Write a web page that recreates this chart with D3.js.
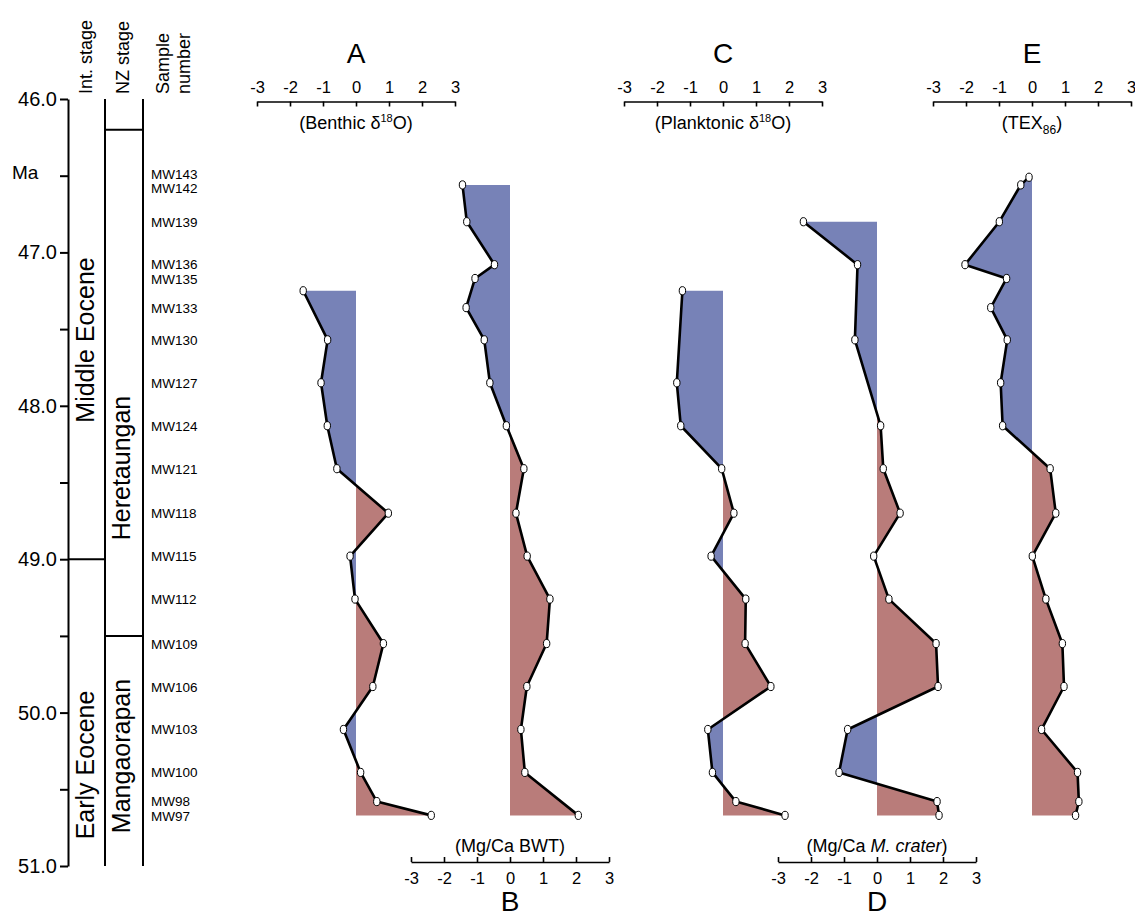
<!DOCTYPE html>
<html>
<head>
<meta charset="utf-8">
<script src="https://cdn.jsdelivr.net/npm/d3@7"></script>
<style>
  body { margin: 0; background: #fff; }
  svg text { font-family: "Liberation Sans", Arial, Helvetica, sans-serif; fill: #000; }
</style>
</head>
<body>
<div id="chart"></div>
<script>
// ---- data (ages in Ma, values as anomalies) ----
const sampleIds = ["MW143","MW142","MW139","MW136","MW135","MW133","MW130","MW127","MW124","MW121",
                   "MW118","MW115","MW112","MW109","MW106","MW103","MW100","MW98","MW97"];
const sampleAges = [46.51,46.56,46.80,47.08,47.17,47.36,47.57,47.85,48.13,48.41,
                    48.70,48.98,49.26,49.55,49.83,50.11,50.39,50.58,50.67];

const ageTicks = [46, 47, 48, 49, 50, 51];
const ageMinor = [46.5, 47.5, 48.5, 49.5, 50.5];
const valueTicks = [-3, -2, -1, 0, 1, 2, 3];

const agesA = [47.25,47.57,47.85,48.13,48.41,48.70,48.98,49.26,49.55,49.83,50.11,50.39,50.58,50.67];
const benthicO = [-1.60,-0.86,-1.06,-0.87,-0.58,0.98,-0.18,-0.03,0.83,0.51,-0.38,0.14,0.63,2.28];

const agesB = [46.56,46.80,47.08,47.17,47.36,47.57,47.85,48.13,48.41,48.70,48.98,49.26,49.55,49.83,50.11,50.39,50.67];
const mgcaBWT = [-1.44,-1.31,-0.47,-1.06,-1.33,-0.78,-0.61,-0.11,0.42,0.18,0.52,1.21,1.11,0.51,0.33,0.45,2.07];

const agesC = [47.25,47.85,48.13,48.41,48.70,48.98,49.26,49.55,49.83,50.11,50.39,50.58,50.67];
const planktonicO = [-1.23,-1.40,-1.28,-0.04,0.33,-0.36,0.69,0.67,1.45,-0.46,-0.32,0.39,1.88];

const agesD = [46.80,47.08,47.57,48.13,48.41,48.70,48.98,49.26,49.55,49.83,50.11,50.39,50.58,50.67];
const mgcaCrater = [-2.23,-0.59,-0.67,0.11,0.19,0.70,-0.10,0.36,1.79,1.85,-0.89,-1.15,1.82,1.88];

const agesE = sampleAges;
const tex86 = [-0.09,-0.34,-0.99,-2.03,-0.77,-1.25,-0.75,-0.95,-0.89,0.55,0.72,0.01,0.42,0.92,0.97,0.29,1.38,1.42,1.32];

// stages
const intStageBounds = [49.0];
const nzStageBounds = [46.2, 49.5];

// ---- layout ----
const W = 1135, H = 916;
const blue = "#7782b7", red = "#b97c7a";

const svg = d3.select("#chart").append("svg")
  .attr("width", W).attr("height", H);

const y = d3.scaleLinear().domain([46, 51]).range([99, 866]);

const colAge = 68, colNzL = 105, colNzR = 143;

// age axis
const ageAxis = svg.append("g").attr("transform", `translate(${colAge},0)`)
  .call(d3.axisLeft(y).tickValues(ageTicks.concat(ageMinor)).tickSize(8).tickSizeOuter(0)
    .tickFormat(d => ageTicks.includes(d) ? d3.format(".1f")(d) : ""));
ageAxis.selectAll("path, line").attr("stroke", "#000").attr("stroke-width", 2);
ageAxis.selectAll("text").attr("font-size", 20).attr("x", -11);

svg.append("text").attr("x", 12).attr("y", y(46.5) + 3).attr("font-size", 19).text("Ma");

// NZ stage column
[colNzL, colNzR].forEach(x => {
  svg.append("line").attr("x1", x).attr("x2", x).attr("y1", y(46)).attr("y2", y(51))
    .attr("stroke", "#000").attr("stroke-width", 2);
});
nzStageBounds.forEach(a => {
  svg.append("line").attr("x1", colNzL).attr("x2", colNzR).attr("y1", y(a)).attr("y2", y(a))
    .attr("stroke", "#000").attr("stroke-width", 2);
});
intStageBounds.forEach(a => {
  svg.append("line").attr("x1", colAge).attr("x2", colNzL).attr("y1", y(a)).attr("y2", y(a))
    .attr("stroke", "#000").attr("stroke-width", 2);
});

function vtext(x, yy, str, size, anchor) {
  return svg.append("text")
    .attr("transform", `translate(${x},${yy}) rotate(-90)`)
    .attr("text-anchor", anchor || "middle")
    .attr("font-size", size).text(str);
}

// headers
vtext(92, 94, "Int. stage", 18, "start");
vtext(129, 94, "NZ stage", 18, "start");
vtext(169, 94, "Sample", 18, "start");
vtext(190, 94, "number", 18, "start");

// stage names
vtext(94, 340, "Middle Eocene", 25);
vtext(94, 765, "Early Eocene", 25);
vtext(130, 468, "Heretaungan", 25);
vtext(130, 756, "Mangaorapan", 25);

// sample labels, pushed apart where they collide
const minGap = 14.5;
const labelY = sampleAges.map(a => y(a));
for (let i = 1; i < labelY.length; i++) {
  const gap = labelY[i] - labelY[i - 1];
  if (gap < minGap) {
    const d = (minGap - gap) / 2;
    labelY[i - 1] -= d; labelY[i] += d;
  }
}
svg.append("g").selectAll("text").data(sampleIds).join("text")
  .attr("x", 151).attr("y", (d, i) => labelY[i] + 5)
  .attr("font-size", 13.5).text(d => d);

// ---- profiles ----
const profiles = [
  { key: "A", ages: agesA, vals: benthicO, zero: 356, top: true,  label: "benthic" },
  { key: "B", ages: agesB, vals: mgcaBWT, zero: 510, top: false, label: "bwt" },
  { key: "C", ages: agesC, vals: planktonicO, zero: 723, top: true, label: "plank" },
  { key: "D", ages: agesD, vals: mgcaCrater, zero: 877, top: false, label: "crater" },
  { key: "E", ages: agesE, vals: tex86, zero: 1032, top: true, label: "tex" }
];

const defs = svg.append("defs");

profiles.forEach(p => {
  const x = d3.scaleLinear().domain([-3, 3]).range([p.zero - 99, p.zero + 99]);
  const pts = p.ages.map((a, i) => ({ age: a, v: p.vals[i] }));

  const area = d3.area().y(d => y(d.age)).x0(x(0)).x1(d => x(d.v));
  const line = d3.line().y(d => y(d.age)).x(d => x(d.v));

  defs.append("clipPath").attr("id", "neg" + p.key).append("rect")
    .attr("x", x(-3) - 20).attr("y", 0).attr("width", x(0) - x(-3) + 20).attr("height", H);
  defs.append("clipPath").attr("id", "pos" + p.key).append("rect")
    .attr("x", x(0)).attr("y", 0).attr("width", x(3) - x(0) + 20).attr("height", H);

  const g = svg.append("g");
  g.append("path").datum(pts).attr("d", area).attr("fill", blue).attr("clip-path", `url(#neg${p.key})`);
  g.append("path").datum(pts).attr("d", area).attr("fill", red).attr("clip-path", `url(#pos${p.key})`);
  g.append("path").datum(pts).attr("d", line).attr("fill", "none")
    .attr("stroke", "#000").attr("stroke-width", 2.6).attr("stroke-linejoin", "round");
  g.selectAll("ellipse").data(pts).join("ellipse")
    .attr("cx", d => x(d.v)).attr("cy", d => y(d.age)).attr("rx", 3.2).attr("ry", 4.1)
    .attr("fill", "#fff").attr("stroke", "#000").attr("stroke-width", 1);

  // axis
  const axY = p.top ? 101.5 : 862;
  const axis = (p.top ? d3.axisTop(x) : d3.axisBottom(x))
    .tickValues(valueTicks).tickSizeInner(-5).tickSizeOuter(0).tickPadding(p.top ? 9 : 10)
    .tickFormat(d => String(d));
  const ag = svg.append("g").attr("transform", `translate(0,${axY})`).call(axis);
  ag.selectAll("path, line").attr("stroke", "#000").attr("stroke-width", 1.6);
  ag.selectAll("text").attr("font-size", 16.5).attr("font-family", '"Liberation Sans", Arial, sans-serif');

  // panel letter
  svg.append("text").attr("x", x(0)).attr("y", p.top ? 63 : 911)
    .attr("text-anchor", "middle").attr("font-size", 28).text(p.key);

  // axis caption
  const cap = svg.append("text").attr("x", x(0)).attr("y", p.top ? 129 : 852)
    .attr("text-anchor", "middle").attr("font-size", 18);
  if (p.label === "benthic" || p.label === "plank") {
    cap.append("tspan").text(p.label === "benthic" ? "(Benthic δ" : "(Planktonic δ");
    cap.append("tspan").attr("font-size", 11).attr("dy", -7).text("18");
    cap.append("tspan").attr("dy", 7).text("O)");
  } else if (p.label === "tex") {
    cap.append("tspan").text("(TEX");
    cap.append("tspan").attr("font-size", 12).attr("dy", 5).text("86");
    cap.append("tspan").attr("dy", -5).text(")");
  } else if (p.label === "bwt") {
    cap.text("(Mg/Ca BWT)");
  } else {
    cap.append("tspan").text("(Mg/Ca ");
    cap.append("tspan").attr("font-style", "italic").text("M. crater");
    cap.append("tspan").text(")");
  }
});
</script>
</body>
</html>
